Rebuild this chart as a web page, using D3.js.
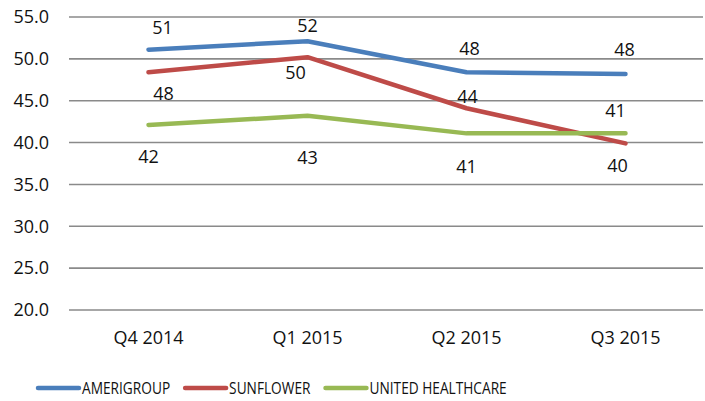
<!DOCTYPE html>
<html>
<head>
<meta charset="utf-8">
<script src="https://cdn.jsdelivr.net/npm/d3@7"></script>
<style>
  body { margin: 0; background: #fff; }
  text { font-family: "Open Sans", sans-serif; fill: #111; }
</style>
</head>
<body>
<svg id="svg1" width="705" height="401"></svg>
<script>
// data
var quarters = ["Q4 2014", "Q1 2015", "Q2 2015", "Q3 2015"];
var seriesNames = ["AMERIGROUP", "SUNFLOWER", "UNITED HEALTHCARE"];
var amerigroup = [51.1, 52.1, 48.4, 48.2];
var sunflower = [48.4, 50.2, 44.1, 39.9];
var unitedHealthcare = [42.1, 43.2, 41.1, 41.1];
var yTicks = [20, 25, 30, 35, 40, 45, 50, 55];

var colors = ["#4a7ebb", "#be4b48", "#98b954"];
// where excel put each data label, relative to its point (dx, dy)
var labelShift = [
    [[14, -22], [0, -16], [3, -24], [-1, -24]],
    [[15, 21], [-12, 16], [1, -12], [-8, 22]],
    [[0, 32], [0, 42], [0, 33], [-10, -23]]
];

var allSeries = [amerigroup, sunflower, unitedHealthcare];

var svg = d3.select("#svg1");
// note: can't call it "top", that's window.top
var plotL = 69, plotR = 705, plotT = 17, plotB = 310;

var x = d3.scaleBand().domain(quarters).range([plotL, plotR]);
var y = d3.scaleLinear().domain([20, 55]).range([plotB, plotT]);

// gridlines
svg.selectAll("line.grid")
    .data(yTicks)
    .enter()
    .append("line")
    .attr("class", "grid")
    .attr("x1", plotL)
    .attr("x2", plotR - 2)
    .attr("y1", function(d) { return y(d); })
    .attr("y2", function(d) { return y(d); })
    .attr("stroke", "#8a8a8a")
    .attr("stroke-width", 1.6);

// y axis labels
svg.selectAll("text.ytick")
    .data(yTicks)
    .enter()
    .append("text")
    .attr("class", "ytick")
    .attr("x", 49)
    .attr("y", function(d) { return y(d); })
    .attr("dy", "0.35em")
    .attr("text-anchor", "end")
    .style("font-size", "18px")
    .text(function(d) { return d3.format(".1f")(d); });

// category labels
svg.selectAll("text.xtick")
    .data(quarters)
    .enter()
    .append("text")
    .attr("class", "xtick")
    .attr("x", function(d) { return x(d) + x.bandwidth() / 2; })
    .attr("y", 338)
    .attr("dy", "0.35em")
    .attr("text-anchor", "middle")
    .style("font-size", "18px")
    .text(function(d) { return d; });

var line = d3.line()
    .x(function(d, i) { return x(quarters[i]) + x.bandwidth() / 2; })
    .y(function(d) { return y(d); });

allSeries.forEach(function(vals, s) {
    svg.append("path")
        .datum(vals)
        .attr("d", line)
        .attr("fill", "none")
        .attr("stroke", colors[s])
        .attr("stroke-width", 4.5)
        .attr("stroke-linecap", "round")
        .attr("stroke-linejoin", "round");

    svg.selectAll("text.lab" + s)
        .data(vals)
        .enter()
        .append("text")
        .attr("class", "lab" + s)
        .attr("x", function(d, i) { return x(quarters[i]) + x.bandwidth() / 2 + labelShift[s][i][0]; })
        .attr("y", function(d, i) { return y(d) + labelShift[s][i][1]; })
        .attr("dy", "0.35em")
        .attr("text-anchor", "middle")
        .style("font-size", "18px")
        .text(function(d) { return d3.format(".0f")(d); });
});

// legend
var lx = 38, ly = 388;
seriesNames.forEach(function(name, s) {
    svg.append("line")
        .attr("x1", lx).attr("x2", lx + 41)
        .attr("y1", ly).attr("y2", ly)
        .attr("stroke", colors[s])
        .attr("stroke-width", 4.5)
        .attr("stroke-linecap", "round");
    var t = svg.append("text")
        .attr("transform", "translate(" + (lx + 44) + "," + ly + ") scale(0.83,1)")
        .attr("dy", "0.35em")
        .style("font-size", "16.5px")
        .text(name);
    var w = t.node().getComputedTextLength() * 0.83;
    lx = lx + 44 + w + 15;
});
</script>
</body>
</html>
